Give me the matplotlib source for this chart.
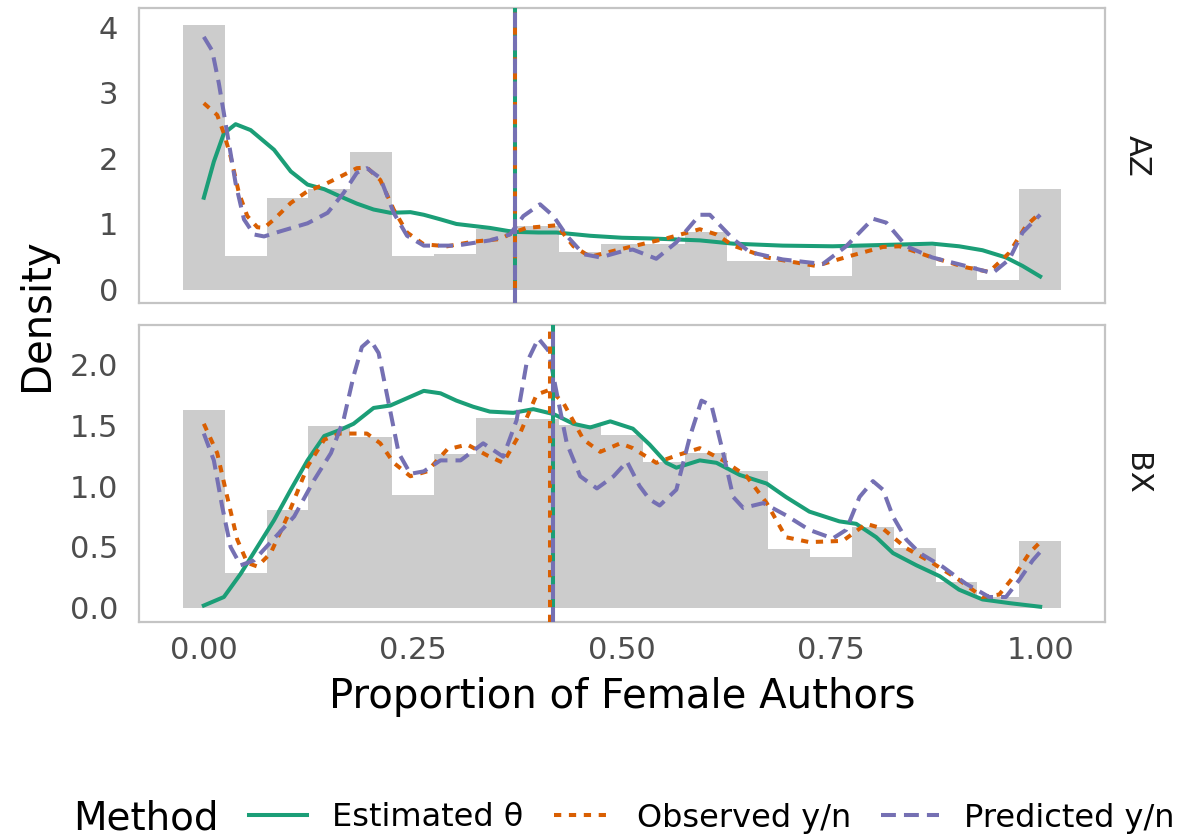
import numpy as np
import matplotlib.pyplot as plt
from matplotlib.lines import Line2D

# histogram bins (centres) and densities per panel
bin_mid = [0.00, 0.05, 0.10, 0.15, 0.20, 0.25, 0.30, 0.35, 0.40, 0.45, 0.50,
           0.55, 0.60, 0.65, 0.70, 0.75, 0.80, 0.85, 0.90, 0.95, 1.00]
az_hist = [4.03, 0.51, 1.40, 1.53, 2.09, 0.51, 0.55, 0.93, 0.97, 0.58, 0.69,
           0.69, 0.88, 0.43, 0.43, 0.21, 0.66, 0.66, 0.36, 0.15, 1.54]
bx_hist = [1.62, 0.29, 0.80, 1.49, 1.40, 0.93, 1.26, 1.56, 1.55, 1.50, 1.42,
           1.20, 1.27, 1.12, 0.48, 0.42, 0.66, 0.49, 0.21, 0.09, 0.55]

# AZ density curves
az_est_x = [0.0, 0.012, 0.024, 0.038, 0.056, 0.084, 0.104, 0.124, 0.144, 0.163,
            0.183, 0.203, 0.223, 0.247, 0.263, 0.283, 0.302, 0.322, 0.342, 0.37,
            0.40, 0.422, 0.462, 0.50, 0.533, 0.593, 0.633, 0.692, 0.752, 0.812,
            0.871, 0.903, 0.931, 0.959, 0.979, 1.0]
az_est_y = [1.40, 1.95, 2.38, 2.52, 2.43, 2.13, 1.80, 1.60, 1.53, 1.42,
            1.31, 1.22, 1.17, 1.18, 1.14, 1.07, 1.00, 0.97, 0.94, 0.88,
            0.87, 0.87, 0.82, 0.79, 0.78, 0.75, 0.70, 0.67, 0.66, 0.68,
            0.70, 0.66, 0.60, 0.49, 0.36, 0.20]
az_obs_x = [0.0, 0.016, 0.024, 0.032, 0.042, 0.052, 0.064, 0.072, 0.084, 0.104,
            0.124, 0.144, 0.163, 0.183, 0.195, 0.211, 0.227, 0.243, 0.263, 0.291,
            0.322, 0.354, 0.370, 0.386, 0.422, 0.442, 0.462, 0.49, 0.513, 0.553,
            0.593, 0.613, 0.633, 0.673, 0.732, 0.772, 0.812, 0.832, 0.871, 0.911,
            0.939, 0.963, 0.983, 1.0]
az_obs_y = [2.84, 2.66, 2.38, 2.03, 1.47, 1.12, 0.95, 0.94, 1.07, 1.32,
            1.50, 1.60, 1.72, 1.85, 1.86, 1.67, 1.22, 0.87, 0.69, 0.66,
            0.73, 0.77, 0.87, 0.94, 0.98, 0.66, 0.50, 0.59, 0.66, 0.78,
            0.92, 0.84, 0.67, 0.49, 0.36, 0.51, 0.65, 0.66, 0.49, 0.34,
            0.27, 0.56, 0.97, 1.17]
az_pred_x = [0.0, 0.010, 0.018, 0.028, 0.038, 0.048, 0.060, 0.072, 0.092, 0.124,
             0.148, 0.167, 0.183, 0.195, 0.211, 0.227, 0.243, 0.263, 0.302, 0.342,
             0.366, 0.382, 0.402, 0.418, 0.434, 0.454, 0.474, 0.502, 0.513, 0.541,
             0.565, 0.593, 0.605, 0.633, 0.653, 0.692, 0.740, 0.768, 0.800, 0.816,
             0.840, 0.871, 0.911, 0.943, 0.963, 0.979, 1.0]
az_pred_y = [3.85, 3.64, 3.14, 2.38, 1.62, 1.07, 0.84, 0.81, 0.89, 1.01,
             1.17, 1.47, 1.78, 1.85, 1.70, 1.17, 0.82, 0.67, 0.67, 0.75,
             0.84, 1.12, 1.30, 1.12, 0.82, 0.54, 0.49, 0.59, 0.61, 0.47,
             0.72, 1.14, 1.14, 0.77, 0.57, 0.46, 0.39, 0.66, 1.08, 1.02,
             0.66, 0.49, 0.36, 0.25, 0.46, 0.87, 1.14]

# BX density curves
bx_est_x = [0.0, 0.024, 0.044, 0.064, 0.084, 0.104, 0.124, 0.144, 0.163, 0.179,
            0.203, 0.223, 0.243, 0.263, 0.283, 0.302, 0.322, 0.342, 0.370, 0.394,
            0.418, 0.442, 0.462, 0.486, 0.513, 0.533, 0.553, 0.565, 0.593, 0.613,
            0.641, 0.673, 0.696, 0.724, 0.760, 0.780, 0.804, 0.824, 0.852, 0.880,
            0.903, 0.931, 0.963, 1.0]
bx_est_y = [0.02, 0.09, 0.28, 0.50, 0.72, 0.97, 1.21, 1.41, 1.46, 1.51,
            1.64, 1.66, 1.72, 1.78, 1.76, 1.70, 1.65, 1.61, 1.60, 1.63,
            1.59, 1.51, 1.48, 1.53, 1.47, 1.34, 1.19, 1.15, 1.21, 1.19,
            1.09, 1.02, 0.91, 0.79, 0.71, 0.69, 0.58, 0.45, 0.35, 0.26,
            0.15, 0.07, 0.04, 0.01]
bx_obs_x = [0.0, 0.016, 0.028, 0.040, 0.052, 0.064, 0.080, 0.100, 0.124, 0.144,
            0.163, 0.195, 0.211, 0.227, 0.247, 0.267, 0.291, 0.315, 0.339, 0.358,
            0.378, 0.398, 0.414, 0.430, 0.454, 0.474, 0.498, 0.513, 0.541, 0.565,
            0.593, 0.621, 0.649, 0.673, 0.696, 0.724, 0.764, 0.792, 0.812, 0.840,
            0.871, 0.903, 0.931, 0.951, 0.971, 0.987, 1.0]
bx_obs_y = [1.51, 1.27, 0.91, 0.56, 0.37, 0.34, 0.45, 0.75, 1.16, 1.38,
            1.43, 1.43, 1.35, 1.19, 1.08, 1.12, 1.30, 1.34, 1.25, 1.19,
            1.43, 1.75, 1.79, 1.68, 1.38, 1.28, 1.35, 1.31, 1.19, 1.25,
            1.31, 1.21, 1.08, 0.86, 0.58, 0.54, 0.55, 0.69, 0.65, 0.49,
            0.37, 0.23, 0.09, 0.11, 0.28, 0.45, 0.54]
bx_pred_x = [0.0, 0.012, 0.022, 0.032, 0.044, 0.060, 0.084, 0.108, 0.132, 0.152,
             0.167, 0.179, 0.189, 0.199, 0.209, 0.221, 0.233, 0.247, 0.263, 0.283,
             0.307, 0.334, 0.358, 0.374, 0.386, 0.400, 0.412, 0.422, 0.434, 0.450,
             0.470, 0.490, 0.506, 0.521, 0.533, 0.545, 0.565, 0.581, 0.595, 0.607,
             0.621, 0.633, 0.645, 0.669, 0.696, 0.724, 0.752, 0.768, 0.784, 0.800,
             0.812, 0.824, 0.840, 0.856, 0.883, 0.911, 0.939, 0.959, 0.975, 0.991,
             1.0]
bx_pred_y = [1.43, 1.21, 0.83, 0.50, 0.35, 0.39, 0.57, 0.75, 1.05, 1.27,
             1.54, 1.90, 2.14, 2.20, 2.09, 1.68, 1.27, 1.10, 1.12, 1.21,
             1.21, 1.35, 1.24, 1.54, 2.01, 2.21, 2.11, 1.76, 1.35, 1.08,
             0.98, 1.08, 1.20, 1.00, 0.89, 0.84, 0.97, 1.40, 1.70, 1.66,
             1.27, 0.91, 0.82, 0.86, 0.76, 0.64, 0.57, 0.64, 0.91, 1.04,
             0.97, 0.75, 0.56, 0.45, 0.34, 0.20, 0.09, 0.09, 0.23, 0.39,
             0.46]

# means (estimated, observed, predicted)
az_means = [0.3715, 0.3723, 0.3725]
bx_means = [0.418, 0.414, 0.417]

methods = ["Estimated \u03b8", "Observed y/n", "Predicted y/n"]
colors = ["#1B9E77", "#D95F02", "#7570B3"]
styles = ["-", (0, (1.8, 1.9)), (0, (3.7, 2.0))]
LW = 2.9

W, H = 1177, 836
fig = plt.figure(figsize=(11.77, 8.36), dpi=100)


def px_box(x0, y0, x1, y1):
    return [x0 / W, 1 - y1 / H, (x1 - x0) / W, (y1 - y0) / H]


ax_top = fig.add_axes(px_box(139, 8, 1105, 303))
ax_bot = fig.add_axes(px_box(139, 325, 1105, 622))

panels = [
    (ax_top, az_hist, [(az_est_x, az_est_y), (az_obs_x, az_obs_y), (az_pred_x, az_pred_y)],
     az_means, "AZ", (-0.204, 4.29), [0, 1, 2, 3, 4], ["0", "1", "2", "3", "4"]),
    (ax_bot, bx_hist, [(bx_est_x, bx_est_y), (bx_obs_x, bx_obs_y), (bx_pred_x, bx_pred_y)],
     bx_means, "BX", (-0.115, 2.32), [0, 0.5, 1, 1.5, 2], ["0.0", "0.5", "1.0", "1.5", "2.0"]),
]

for ax, hist, curves, means, strip, ylim, yt, ytl in panels:
    ax.bar(bin_mid, hist, width=0.05, color="#cccccc", linewidth=0, zorder=1)
    for (cx, cy), c, ls in zip(curves, colors, styles):
        ax.plot(cx, cy, color=c, linestyle=ls, linewidth=LW, zorder=3,
                solid_joinstyle="round", dash_joinstyle="round")
    for m, c, ls in zip(means, colors, styles):
        ax.axvline(m, color=c, linestyle=ls, linewidth=LW, zorder=4)
    ax.set_xlim(-0.0775, 1.0775)
    ax.set_ylim(*ylim)
    ax.set_yticks(yt)
    ax.set_yticklabels(ytl)
    ax.set_xticks([0, 0.25, 0.5, 0.75, 1.0])
    ax.tick_params(length=0, labelsize=22, labelcolor="#4d4d4d", pad=15)
    for sp in ax.spines.values():
        sp.set_color("#c4c4c4")
        sp.set_linewidth(1.6)
    ax.text(1.033, 0.5, strip, transform=ax.transAxes, rotation=-90,
            ha="center", va="center", fontsize=22, color="#1a1a1a")

ax_top.set_xticklabels([])
ax_bot.set_xticklabels(["0.00", "0.25", "0.50", "0.75", "1.00"])
ax_bot.tick_params(axis="x", pad=10)

fig.text(622 / W, 1 - 697 / H, "Proportion of Female Authors", ha="center",
         va="center", fontsize=29)
fig.text(37 / W, 1 - 315 / H, "Density", ha="center", va="center",
         rotation=90, fontsize=29)

# legend
fig.text(73 / W, 1 - 818 / H, "Method", ha="left", va="center", fontsize=28)
handles = [Line2D([], [], color=c, linestyle=ls, linewidth=LW)
           for c, ls in zip(colors, styles)]
fig.legend(handles, methods, loc="center left",
           bbox_to_anchor=(249 / W, 1 - 818 / H), ncol=3, frameon=False,
           fontsize=23, handlelength=1.8, handletextpad=0.8,
           columnspacing=0.95, borderpad=0, borderaxespad=0)

fig.savefig("out.png", dpi=100)
